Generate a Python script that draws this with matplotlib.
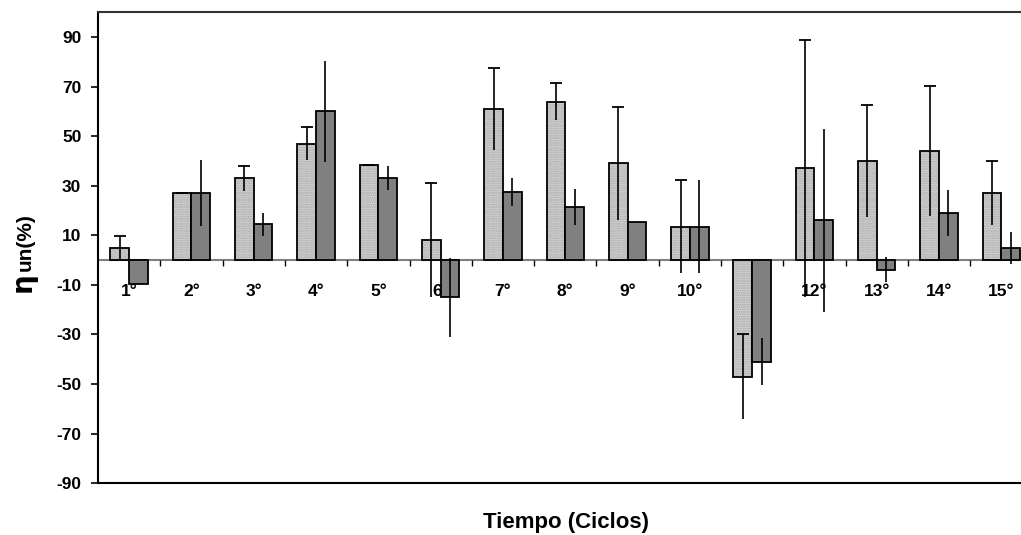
import numpy as np
import matplotlib
matplotlib.use("Agg")
import matplotlib.pyplot as plt

plt.rcParams['font.family'] = ['Liberation Sans', 'DejaVu Sans']

ciclos = ['1°', '2°', '3°', '4°', '5°', '6°', '7°', '8°', '9°', '10°',
          '11°', '12°', '13°', '14°', '15°']

# serie clara (con tapa en el extremo superior del error)
media_a = [5, 27, 33, 47, 38.5, 8, 61, 64, 39, 13.5, -47, 37, 40, 44, 27]
error_a = [4.7, 0, 5, 6.7, 0, 23, 16.7, 7.4, 22.8, 18.7, 17, 52, 22.7, 26.4, 12.8]

# serie oscura (sin tapas)
media_b = [-9.5, 27, 14.5, 60, 33, -15, 27.5, 21.5, 15.3, 13.5, -41, 16, -3.8, 19, 4.9]
error_b = [0, 13.4, 4.7, 20.3, 4.8, 16, 5.7, 7.2, 0, 18.7, 9.5, 37, 5, 9.2, 6.6]

yticks = np.arange(-90, 91, 20)

x = np.arange(len(ciclos))
w = 0.3

fig = plt.figure(figsize=(10.21, 5.35), dpi=100)
ax = fig.add_axes([0.096, 0.097, 0.904, 0.880])

# barras claras: relleno punteado y luego el borde negro
ax.bar(x - w / 2, media_a, w, color='#d3d3d3', hatch='.......',
       edgecolor='#a8a8a8', linewidth=0, zorder=2)
ax.bar(x - w / 2, media_a, w, fill=False, edgecolor='black',
       linewidth=1.3, zorder=3)
ax.bar(x + w / 2, media_b, w, color='#808080', edgecolor='black',
       linewidth=1.3, zorder=3)

ma = np.array(media_a)
ea = np.array(error_a)
ax.errorbar(x - w / 2, ma, yerr=ea, fmt='none', ecolor='black',
            elinewidth=1.2, capsize=0, zorder=4)
ax.plot(x - w / 2, ma + ea, ls='none', marker='_', ms=8, mew=1.3,
        color='black', zorder=4)
ax.errorbar(x + w / 2, media_b, yerr=error_b, fmt='none', ecolor='black',
            elinewidth=1.2, capsize=0, zorder=4)

# linea del cero con marcas entre ciclos
ax.axhline(0, color='#808080', lw=1.5, zorder=2.5)
ax.vlines(x[:-1] + 0.5, -2.4, 0, color='black', lw=1.0, zorder=2.5)

for xi, lab in zip(x, ciclos):
    ax.text(xi, -12.5, lab, ha='center', va='center', fontsize=12.5,
            fontweight='bold', zorder=1)

ax.set_xlim(-0.5, 14.315)
ax.set_ylim(-90, 100)
ax.set_xticks([])
ax.set_yticks(yticks)
ax.set_yticklabels([str(v) for v in yticks], fontsize=12.5, fontweight='bold')
ax.tick_params(axis='y', direction='out', length=5, width=1.2, pad=7)

ax.spines['right'].set_visible(False)
for s in ['left', 'bottom']:
    ax.spines[s].set_linewidth(1.5)
    ax.spines[s].set_color('black')
ax.spines['top'].set_linewidth(1.5)
ax.spines['top'].set_color('#333333')

# etiqueta del eje y: eta y "un(%)" sobre la misma linea base
fig.text(0.030, 0.454, 'η', rotation=90, rotation_mode='anchor',
         ha='left', va='baseline', fontsize=20, fontweight='bold',
         family='DejaVu Sans')
fig.text(0.030, 0.494, 'un(%)', rotation=90, rotation_mode='anchor',
         ha='left', va='baseline', fontsize=15, fontweight='bold')
fig.text(0.554, 0.024, 'Tiempo (Ciclos)', ha='center', va='center',
         fontsize=16, fontweight='bold')

fig.savefig('out.png', dpi=100)
